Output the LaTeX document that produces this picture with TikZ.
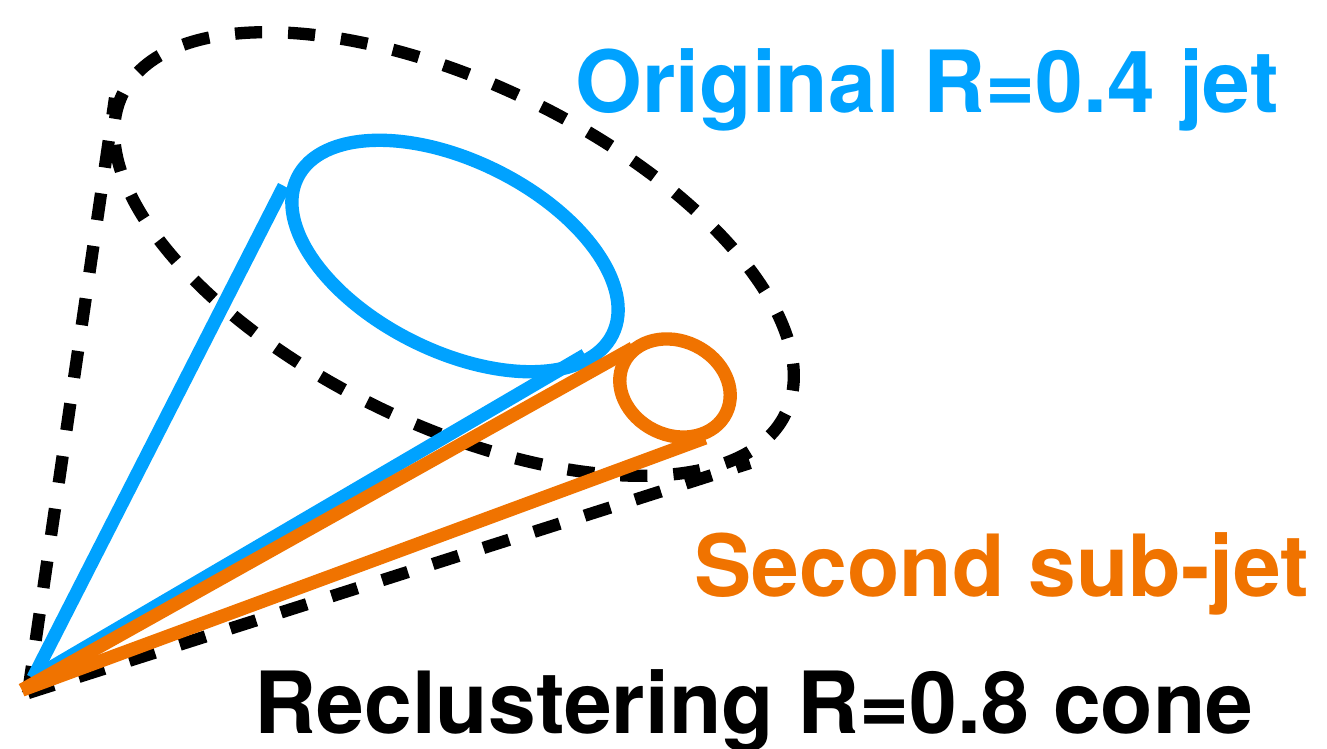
\documentclass[tikz,border=0pt]{standalone}
\usepackage{fontspec}
\setmainfont{TeX Gyre Heros}
\usepackage{tikz}

\definecolor{jetblue}{RGB}{0,162,255}
\definecolor{subjetorange}{RGB}{240,115,0}

\begin{document}
\begin{tikzpicture}[x=0.01cm, y=-0.01cm,
  cone/.style = {line width=3.5pt, dash pattern=on 7.7pt off 7.4pt},
  jet/.style = {line width=3.8pt, jetblue},
  subjet/.style = {line width=3.8pt, subjetorange},
  lbl/.style = {anchor=base west, inner sep=0, font=\fontsize{24.4}{28}\selectfont\bfseries}]
\useasboundingbox (0,0) rectangle (1327,748);
% apex of the cones
\coordinate (apex) at (28,693);
\coordinate (jetapex) at (33,678);
\coordinate (subapex) at (22,690);
% reclustering R=0.8 cone
\draw [cone, rotate around={-25.7:(454,254)}] (454,254) ellipse [x radius=368, y radius=171];
\coordinate (coneleft) at (115,98);
\coordinate (coneright) at (750,463);
\draw [cone] (apex) -- (coneleft);
\draw [cone] (apex) -- (coneright);
% original jet
\draw [jet, rotate around={-26.5:(455,256)}] (455,256) ellipse [x radius=176, y radius=95];
\coordinate (jetleft) at (284,186);
\coordinate (jetright) at (585,355);
\draw [jet] (jetapex) -- (jetleft);
\draw [jet] (jetapex) -- (jetright);
% second sub-jet
\draw [subjet, rotate around={-26:(675,388)}] (675,388) ellipse [x radius=57, y radius=47];
\coordinate (subleft) at (633,348);
\coordinate (subright) at (705,438);
\draw [subjet] (subapex) -- (subleft);
\draw [subjet] (subapex) -- (subright);
% labels
\node [lbl, jetblue] (jetlabel) at (575,112) {Original R=0.4 jet};
\node [lbl, subjetorange] (subjetlabel) at (694,596) {Second sub-jet};
\node [lbl] (conelabel) at (254,733) {Reclustering R=0.8 cone};
\end{tikzpicture}
\end{document}
